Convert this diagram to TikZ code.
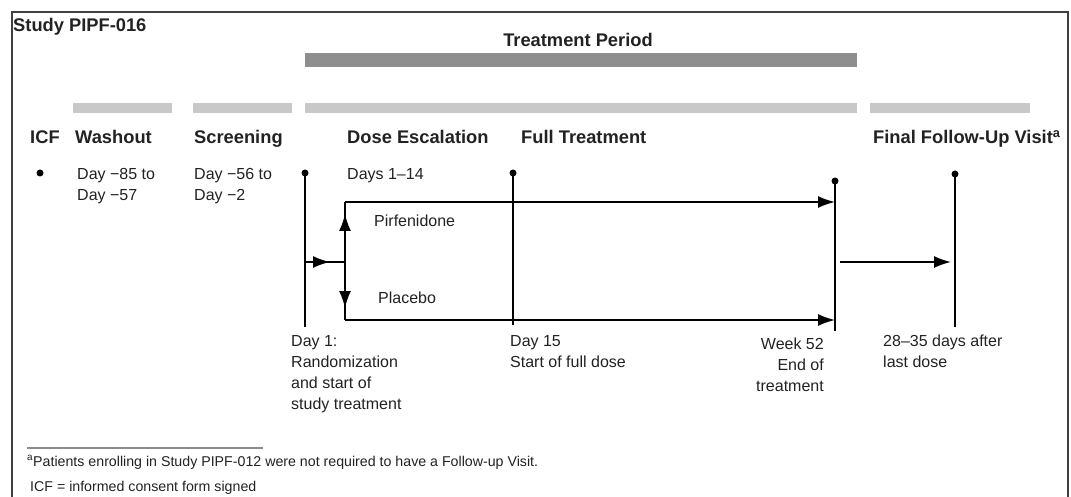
\documentclass[tikz,border=0pt]{standalone}
\usepackage{fontspec}
\setmainfont{Liberation Sans}
\usetikzlibrary{arrows.meta}
\definecolor{txt}{HTML}{222222}
\definecolor{darkbar}{HTML}{8E8E8E}
\definecolor{lightbar}{HTML}{C8C8C8}
\begin{document}
\begin{tikzpicture}[x=1pt,y=-1pt,
  hd/.style={font=\fontsize{18.3}{20}\selectfont\bfseries, text=txt, inner sep=0pt, anchor=base west},
  tx/.style={font=\fontsize{16}{21}\selectfont, text=txt, inner sep=0pt, anchor=north west, align=left},
  fn/.style={font=\fontsize{14.2}{16}\selectfont, text=txt, inner sep=0pt, anchor=base west},
  dot/.style={circle, fill=black, inner sep=0pt, minimum size=7pt},
  ln/.style={line width=1.8pt, black},
  arr/.style={line width=1.8pt, black, -{Latex[length=17pt,width=12pt]}}
]
\useasboundingbox (0,0) rectangle (1071,497);
\fill[white] (0,0) rectangle (1071,497);
% frame
\draw[line width=2pt, black!75] (12,520) -- (12,12) -- (1068,12) -- (1068,520);
% titles
\node[hd] (study) at (13,31.5) {Study PIPF-016};
\node[hd, anchor=base] (tp) at (578,46.5) {Treatment Period};
\fill[darkbar] (305,53) rectangle (857,67);
% light bars
\fill[lightbar] (73,103) rectangle (172,113);
\fill[lightbar] (193,103) rectangle (292,113);
\fill[lightbar] (305,103) rectangle (857,113);
\fill[lightbar] (870,103) rectangle (1030,113);
% headings
\node[hd] (icf) at (30,143.5) {ICF};
\node[hd] (wash) at (75,143.5) {Washout};
\node[hd] (scr) at (194,143.5) {Screening};
\node[hd] (dose) at (347,143.5) {Dose Escalation};
\node[hd] (full) at (521,143.5) {Full Treatment};
\node[hd] (fu) at (873,143.5) {Final Follow-Up Visit\textsuperscript{a}};
% row texts
\node[tx] (washd) at (77,168) {Day −85 to\\Day −57};
\node[tx] (scrd) at (194,168) {Day −56 to\\Day −2};
\node[tx] (dosed) at (347,168) {Days 1–14};
% dots
\node[dot] (icfdot) at (40,173) {};
\node[dot] (d1dot) at (305,173) {};
\node[dot] (d15dot) at (513,173) {};
\node[dot] (w52dot) at (835,181) {};
\node[dot] (fudot) at (955,174) {};
\coordinate (d1bot) at (305,327);
\coordinate (d15bot) at (513,325);
\coordinate (w52bot) at (835,331);
\coordinate (fubot) at (955,327);
\draw[ln] (d1dot.center) -- (d1bot);
\draw[ln] (d15dot.center) -- (d15bot);
\draw[ln] (w52dot.center) -- (w52bot);
\draw[ln] (fudot.center) -- (fubot);
% randomization
\coordinate (rin) at (305,262);
\coordinate (rmid) at (330,262);
\coordinate (split) at (345,262);
\coordinate (topl) at (345,202);
\coordinate (upm) at (345,214);
\coordinate (botl) at (345,320);
\coordinate (dnm) at (345,308);
\coordinate (topr) at (835,202);
\coordinate (botr) at (835,320);
\draw[ln] (rin) -- (split);
\draw[arr] (rin) -- (rmid);
\draw[ln] (topl) -- (botl);
\draw[arr] (split) -- (upm);
\draw[arr] (split) -- (dnm);
\draw[arr] (topl) -- (topr);
\draw[arr] (botl) -- (botr);
\node[tx] (pirf) at (374,215) {Pirfenidone};
\node[tx] (plac) at (378,292) {Placebo};
% to follow-up
\coordinate (fua) at (840,262);
\coordinate (fub) at (951,262);
\draw[arr] (fua) -- (fub);
% bottom labels
\node[tx] (d1lab) at (291,335) {Day 1:\\Randomization\\and start of\\study treatment};
\node[tx] (d15lab) at (510,335) {Day 15\\Start of full dose};
\node[tx, anchor=north east, align=right] (w52lab) at (824,338) {Week 52\\End of\\treatment};
\node[tx] (fulab) at (883,335) {28–35 days after\\last dose};
% footnotes
\draw[line width=1.2pt, black!45] (27,448) -- (263,448);
\node[fn] (fn1) at (27,466) {\textsuperscript{a}Patients enrolling in Study PIPF-012 were not required to have a Follow-up Visit.};
\node[fn] (fn2) at (30,491) {ICF = informed consent form signed};
\end{tikzpicture}
\end{document}
